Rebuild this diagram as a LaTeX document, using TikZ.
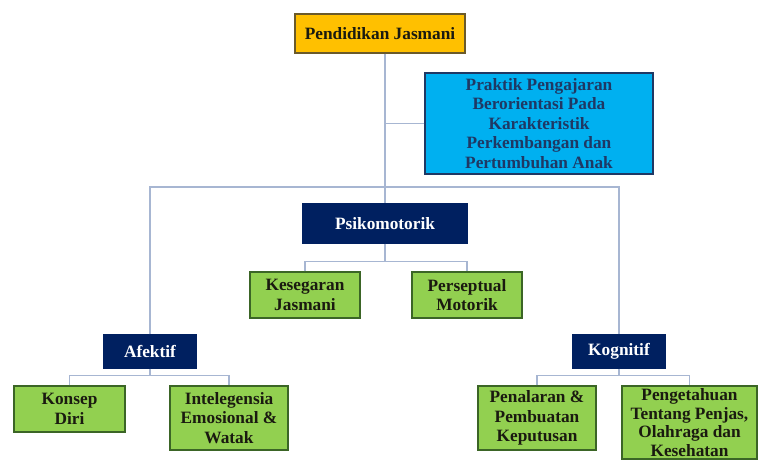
\documentclass[tikz,border=0pt]{standalone}
\usepackage{fontspec}
\setmainfont{Liberation Serif}
\usepackage{xcolor}
\usepackage{tikz}
\definecolor{PJGold}{HTML}{FFC000}
\definecolor{PJGoldEdge}{HTML}{6B5A2A}
\definecolor{PJBlue}{HTML}{00B0F0}
\definecolor{PJBlueEdge}{HTML}{1F3864}
\definecolor{PJNavy}{HTML}{002060}
\definecolor{PJGreen}{HTML}{92D050}
\definecolor{PJGreenEdge}{HTML}{3B6526}
\definecolor{PJInk}{HTML}{1A1A10}
\definecolor{PJLine}{HTML}{A7B6D2}

\begin{document}
\begin{tikzpicture}[x=1pt,y=-1pt,
  box/.style={draw,line width=1.3pt,align=center,inner sep=1pt,
    font=\fontsize{17.3}{19.6}\selectfont\bfseries},
  goldbox/.style={box,fill=PJGold,draw=PJGoldEdge,text=PJInk},
  bluebox/.style={box,fill=PJBlue,draw=PJBlueEdge,text=PJBlueEdge},
  navybox/.style={box,fill=PJNavy,draw=PJNavy,text=white},
  greenbox/.style={box,fill=PJGreen,draw=PJGreenEdge,text=PJInk},
  link/.style={draw=PJLine,line width=1.5pt}]
\path[use as bounding box] (0,0) rectangle (758,462);
% top of the chart
\node[goldbox,minimum width=170pt,minimum height=39pt] (pj) at (380,33.5) {Pendidikan Jasmani};
\node[bluebox,minimum width=228pt,minimum height=101pt] (praktik) at (539,123.5)
  {Praktik Pengajaran\\Berorientasi Pada\\Karakteristik\\Perkembangan dan\\Pertumbuhan Anak};
% three domains
\node[navybox,minimum width=164pt,minimum height=39pt] (psiko) at (385,223.5) {Psikomotorik};
\node[navybox,minimum width=92pt,minimum height=33pt] (afek) at (150,351.5) {Afektif};
\node[navybox,minimum width=93pt,minimum height=33pt] (kogn) at (619,351.5) {Kognitif};
% leaves
\node[greenbox,minimum width=110pt,minimum height=46pt] (segar) at (305,295) {Kesegaran\\Jasmani};
\node[greenbox,minimum width=110pt,minimum height=46pt] (persep) at (467,295) {Perseptual\\Motorik};
\node[greenbox,minimum width=111pt,minimum height=46pt] (konsep) at (69.5,409) {Konsep\\Diri};
\node[greenbox,minimum width=118pt,minimum height=64pt] (intel) at (229,418) {Intelegensia\\Emosional \&\\Watak};
\node[greenbox,minimum width=118pt,minimum height=64pt] (nalar) at (537,418) {Penalaran \&\\Pembuatan\\Keputusan};
\node[greenbox,minimum width=135pt,minimum height=73pt,inner sep=0pt,
  font=\fontsize{17.3}{18.6}\selectfont\bfseries] (tahu) at (689.5,422.5)
  {Pengetahuan\\Tentang Penjas,\\Olahraga dan\\Kesehatan};
% connectors
\coordinate (bar) at (385,187);
\begin{scope}[on background layer/.try]
\draw[link] (pj.south -| psiko.north) -- (psiko.north);
\draw[link] (praktik.west) -- (praktik.west -| psiko.north);
\draw[link] (afek.north) |- (bar) -| (kogn.north);
\draw[link] (psiko.south) -- ++(0,18) coordinate (psikoj);
\draw[link] (segar.north) |- (psikoj) -| (persep.north);
\draw[link] (afek.south) -- ++(0,7) coordinate (afekj);
\draw[link] (konsep.north) |- (afekj) -| (intel.north);
\draw[link] (kogn.south) -- ++(0,7) coordinate (kognj);
\draw[link] (nalar.north) |- (kognj) -| (tahu.north);
\end{scope}
\end{tikzpicture}
\end{document}
